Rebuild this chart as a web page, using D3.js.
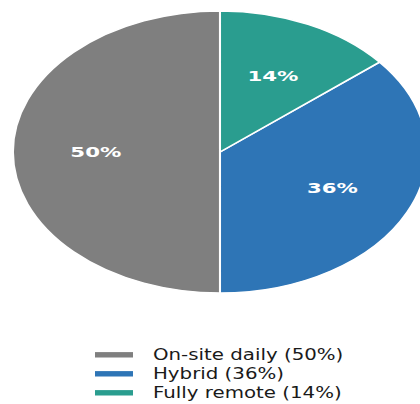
<!DOCTYPE html>
<html>
<head>
<meta charset="utf-8">
<script src="https://cdn.jsdelivr.net/npm/d3@7"></script>
<style>
  html, body { margin: 0; padding: 0; background: #ffffff; }
  svg { display: block; }
</style>
</head>
<body>
<svg id="chart" width="420" height="404"></svg>
<script>
// Work arrangement shares
const categories = ["On-site daily", "Hybrid", "Fully remote"];
const shares = [50, 36, 14];
const colors = ["#7f7f7f", "#2e75b6", "#2a9d8f"];

const W = 420, H = 404;
const cx = 220, cy = 152;
const ry = 141;              // vertical radius
const sx = 207 / 141;        // horizontal stretch of the pie

const svg = d3.select("#chart");

const data = categories.map((c, i) => ({ name: c, value: shares[i], color: colors[i] }));

// Counter-clockwise layout starting at 12 o'clock
const pie = d3.pie()
  .value(d => d.value)
  .sort(null)
  .startAngle(2 * Math.PI)
  .endAngle(0);

const arc = d3.arc().innerRadius(0).outerRadius(ry);
const labelArc = d3.arc().innerRadius(ry * 0.6).outerRadius(ry * 0.6);

const g = svg.append("g")
  .attr("transform", `translate(${cx},${cy}) scale(${sx},1)`);

const slices = pie(data);

g.selectAll("path.slice")
  .data(slices)
  .join("path")
  .attr("class", "slice")
  .attr("d", arc)
  .attr("fill", d => d.data.color)
  .attr("stroke", "#ffffff")
  .attr("stroke-width", 1.4)
  .attr("stroke-linejoin", "round");

g.selectAll("text.pct")
  .data(slices)
  .join("text")
  .attr("class", "pct")
  .attr("transform", d => {
    const [x, y] = labelArc.centroid(d);
    return `translate(${x},${y})`;
  })
  .attr("text-anchor", "middle")
  .attr("dy", "0.36em")
  .attr("font-family", "DejaVu Sans, sans-serif")
  .attr("font-weight", "bold")
  .attr("font-size", 14.5)
  .attr("fill", "#ffffff")
  .text(d => `${d.data.value}%`);

// Legend
const legend = svg.append("g");
const rowY = d3.scaleLinear().domain([0, 1]).range([354.8, 373.8]);

const items = legend.selectAll("g.item")
  .data(data)
  .join("g")
  .attr("class", "item")
  .attr("transform", (d, i) => `translate(0,${rowY(i)})`);

items.append("rect")
  .attr("x", 95)
  .attr("y", -2.7)
  .attr("width", 38)
  .attr("height", 5.4)
  .attr("fill", d => d.color);

items.append("text")
  .attr("transform", "translate(153,5) scale(1.32,1)")
  .attr("font-family", "DejaVu Sans, sans-serif")
  .attr("font-size", 15)
  .attr("fill", "#1a1a1a")
  .text(d => `${d.name} (${d.value}%)`);
</script>
</body>
</html>
